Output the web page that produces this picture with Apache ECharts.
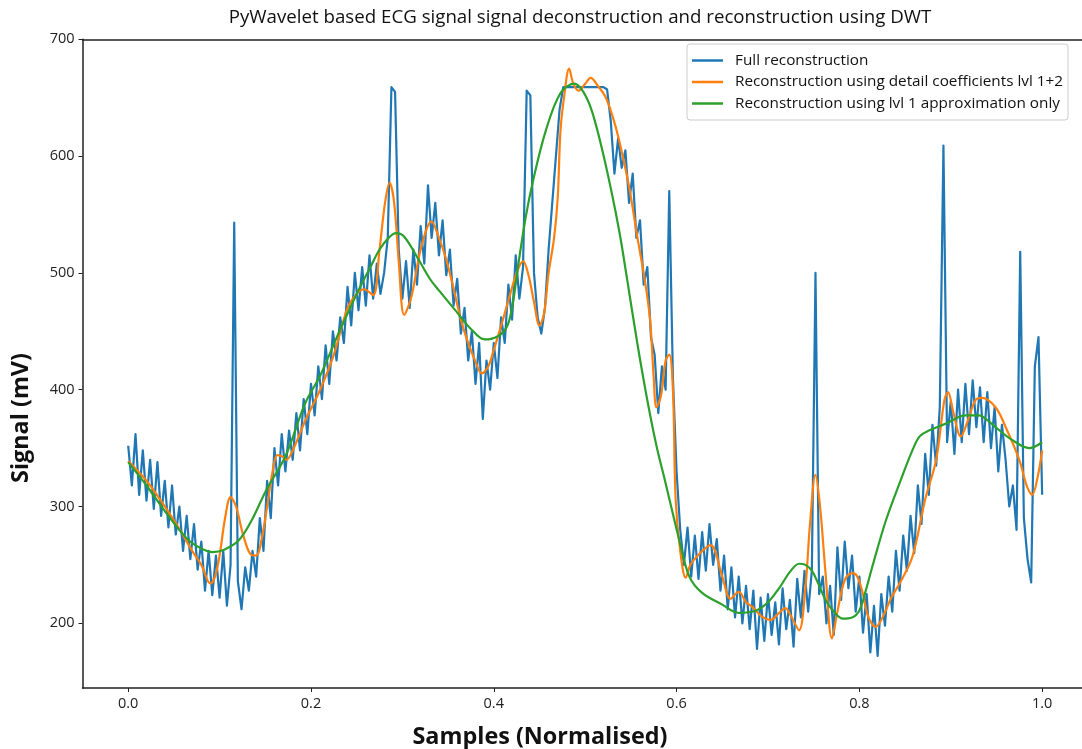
<!DOCTYPE html>
<html><head><meta charset="utf-8">
<script src="https://cdn.jsdelivr.net/npm/echarts@6/dist/echarts.min.js"></script>
<style>html,body{margin:0;padding:0;background:#fff}#c{width:1082px;height:749px}</style>
</head><body><div id="c"></div>
<script>
const titleText = "PyWavelet based ECG signal signal deconstruction and reconstruction using DWT";
const xAxisTitle = "Samples (Normalised)";
const yAxisTitle = "Signal (mV)";
const seriesNames = ["Full reconstruction", "Reconstruction using detail coefficients lvl 1+2", "Reconstruction using lvl 1 approximation only"];
const xTicks = [0, 0.2, 0.4, 0.6, 0.8, 1.0];
const yTicks = [200, 300, 400, 500, 600, 700];

// Full reconstruction: evenly spaced samples over normalised 0..1
const fullRecon = [
352,318,362,310,348,305,340,298,338,292,
322,282,318,276,300,262,292,255,285,246,
270,228,262,224,258,222,262,215,250,543,
236,212,248,228,262,240,290,262,322,290,
350,318,362,330,365,340,380,348,392,362,
405,378,420,392,438,405,450,425,462,440,
488,455,500,468,505,472,515,478,508,482,
500,530,659,655,520,478,510,470,520,490,
540,508,575,530,560,515,545,498,520,472,
495,448,470,425,450,405,440,375,425,400,
440,410,462,440,490,460,515,478,505,656,
652,500,462,448,470,520,560,600,640,659,
659,659,659,659,659,659,659,659,659,659,
659,657,630,585,615,590,605,560,585,530,
545,490,505,445,430,380,420,400,570,410,
330,280,250,282,240,275,238,278,245,285,
250,272,228,258,212,248,205,240,200,232,
195,228,178,222,185,225,190,218,182,230,
195,220,180,238,205,245,210,245,500,225,
240,200,232,190,265,220,270,230,258,210,
240,192,225,175,215,172,225,198,240,210,
262,228,275,245,292,260,318,285,345,310,
370,335,385,609,355,390,345,400,355,405,
362,408,368,402,355,398,350,385,330,370,
340,300,318,280,518,290,255,235,420,445,
310
];

// Reconstruction using detail coefficients lvl 1+2: [x, y]
const detailRecon = [
[0,339],[0.02,322],[0.04,300],[0.055,282],[0.07,262],[0.08,250],[0.09,234],[0.095,240],[0.1,258],[0.106,290],
[0.112,308],[0.118,300],[0.126,275],[0.134,259],[0.14,258],[0.146,272],[0.152,300],[0.158,330],[0.163,344],[0.168,343],
[0.173,340],[0.18,348],[0.194,374],[0.21,400],[0.225,430],[0.24,470],[0.25,482],[0.258,486],[0.268,481],[0.275,520],
[0.281,560],[0.286,577],[0.291,560],[0.296,510],[0.302,464],[0.31,480],[0.32,520],[0.332,544],[0.34,530],[0.347,514],
[0.355,490],[0.364,460],[0.372,440],[0.379,426],[0.387,414],[0.394,420],[0.4,434],[0.41,460],[0.418,482],[0.425,500],
[0.432,510],[0.438,498],[0.444,475],[0.45,455],[0.455,465],[0.46,500],[0.466,530],[0.47,565],[0.473,622],[0.477,651],
[0.4825,675],[0.487,662],[0.493,656],[0.5,662],[0.506,667],[0.514,660],[0.522,651],[0.53,634],[0.537,614],[0.548,574],
[0.557,531],[0.565,495],[0.571,460],[0.575,410],[0.578,385],[0.583,395],[0.588,425],[0.592,430],[0.596,400],[0.599,306],
[0.604,262],[0.61,239],[0.615,250],[0.622,257],[0.637,267],[0.65,240],[0.659,221],[0.668,227],[0.676,218],[0.683,214],
[0.693,206],[0.703,203],[0.711,208],[0.719,213],[0.726,205],[0.734,194],[0.741,231],[0.746,285],[0.752,327],[0.757,300],
[0.763,243],[0.77,187],[0.776,210],[0.784,237],[0.792,243],[0.797,241],[0.803,228],[0.81,205],[0.818,197],[0.826,206],
[0.835,222],[0.844,234],[0.858,257],[0.872,306],[0.884,340],[0.893,391],[0.897,398],[0.903,380],[0.911,360],[0.918,372],
[0.927,391],[0.934,393],[0.949,385],[0.96,368],[0.975,340],[0.983,318],[0.989,310],[0.995,325],[1.0,348]
];

// Reconstruction using lvl 1 approximation only: [x, y]
const approxRecon = [
[0,338],[0.02,318],[0.045,291],[0.065,272],[0.08,264],[0.092,261],[0.105,263],[0.121,271],[0.135,288],[0.151,314],
[0.172,343],[0.194,389],[0.21,412],[0.23,448],[0.25,482],[0.265,505],[0.275,520],[0.285,530],[0.293,534],[0.302,531],
[0.318,511],[0.33,495],[0.34,485],[0.36,466],[0.375,452],[0.39,443],[0.405,446],[0.415,455],[0.421,475],[0.427,508],
[0.435,548],[0.443,579],[0.457,622],[0.473,654],[0.488,662],[0.498,655],[0.508,637],[0.522,594],[0.537,537],[0.546,494],
[0.557,440],[0.568,391],[0.578,352],[0.588,320],[0.603,271],[0.614,240],[0.628,226],[0.65,216],[0.668,209],[0.687,211],
[0.7,218],[0.713,231],[0.724,244],[0.734,251],[0.741,250],[0.748,245],[0.755,234],[0.763,220],[0.772,210],[0.782,204],
[0.792,205],[0.8,211],[0.807,228],[0.814,248],[0.829,288],[0.844,320],[0.858,348],[0.866,360],[0.876,365],[0.895,371],
[0.916,378],[0.931,378],[0.94,374],[0.949,368],[0.967,357],[0.986,350],[1.0,355]
];

const colors = ['#1f77b4', '#ff7f0e', '#2ca02c'];
const FONT = '"Open Sans", "DejaVu Sans", sans-serif';
const AX = '#222';

const fullData = fullRecon.map((v, i) => [i / (fullRecon.length - 1), v]);

const chart = echarts.init(document.getElementById('c'), null, {renderer: 'canvas'});
const xMin = -0.05, xMax = 1.0436, yMin = 144.6, yMax = 700;
chart.setOption({
  animation: false,
  backgroundColor: '#fff',
  color: colors,
  grid: {left: 82.5, top: 39.3, right: 0, bottom: 61, containLabel: false},
  legend: {
    orient: 'vertical', left: 687, top: 44,
    itemWidth: 31, itemHeight: 2.5, itemGap: 4.5, icon: 'rect',
    padding: [8, 5, 8, 5],
    borderColor: '#cccccc', borderWidth: 1, borderRadius: 3, backgroundColor: '#fff',
    textStyle: {fontFamily: FONT, fontSize: 15.3, lineHeight: 17, color: '#111', padding: [0, 0, 0, 7]},
    data: seriesNames
  },
  xAxis: [{
    type: 'value', min: xMin, max: xMax,
    axisLine: {show: true, onZero: false, lineStyle: {color: AX, width: 1.5}},
    axisTick: {show: true, length: 4, customValues: xTicks, lineStyle: {color: AX, width: 1}},
    axisLabel: {customValues: xTicks, formatter: v => v.toFixed(1), fontFamily: FONT, fontSize: 14.5, color: '#222', margin: 8},
    splitLine: {show: false}
  }, {
    type: 'value', position: 'top', min: xMin, max: xMax,
    axisLine: {show: true, onZero: false, lineStyle: {color: AX, width: 1.5}},
    axisTick: {show: false}, axisLabel: {show: false}, splitLine: {show: false}
  }],
  yAxis: {
    type: 'value', min: yMin, max: yMax,
    axisLine: {show: true, onZero: false, lineStyle: {color: AX, width: 1.5}},
    axisTick: {show: true, length: 4, customValues: yTicks, lineStyle: {color: AX, width: 1}},
    axisLabel: {customValues: yTicks, fontFamily: FONT, fontSize: 14.5, color: '#222', margin: 8},
    splitLine: {show: false}
  },
  series: [{
    name: seriesNames[0], type: 'line', data: fullData, symbol: 'none', showSymbol: false,
    lineStyle: {color: colors[0], width: 2.2, join: 'round'}, itemStyle: {color: colors[0]}, z: 2
  }, {
    name: seriesNames[1], type: 'line', data: detailRecon, symbol: 'none', showSymbol: false, smooth: 0.35,
    lineStyle: {color: colors[1], width: 2.2}, itemStyle: {color: colors[1]}, z: 3
  }, {
    name: seriesNames[2], type: 'line', data: approxRecon, symbol: 'none', showSymbol: false, smooth: 0.35,
    lineStyle: {color: colors[2], width: 2.2}, itemStyle: {color: colors[2]}, z: 4
  }],
  graphic: [{
    type: 'text', x: 580, y: 18,
    style: {text: titleText, fontFamily: FONT, fontSize: 18.7, fill: '#111', align: 'center', verticalAlign: 'middle'}
  }, {
    type: 'text', x: 540, y: 737,
    style: {text: xAxisTitle, fontFamily: FONT, fontSize: 23.4, fontWeight: 'bold', fill: '#111', align: 'center', verticalAlign: 'middle'}
  }, {
    type: 'text', x: 21, y: 418, rotation: Math.PI / 2,
    style: {text: yAxisTitle, fontFamily: FONT, fontSize: 23.4, fontWeight: 'bold', fill: '#111', align: 'center', verticalAlign: 'middle'}
  }]
});
</script>
</body></html>
